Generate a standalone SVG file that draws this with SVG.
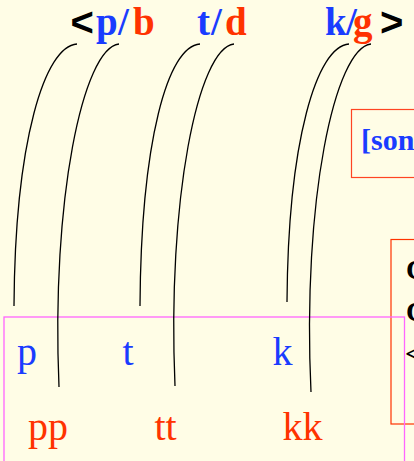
<svg xmlns="http://www.w3.org/2000/svg" width="414" height="461" viewBox="0 0 414 461">
<style>
.bg{fill:#FFFDE6}
.blue{fill:#1A3CFF}
.red{fill:#FF3300}
.blk{fill:#000000}
.title{font-family:"Liberation Serif","Times New Roman",serif;font-weight:bold;font-size:39px}
.ang{font-family:"Liberation Sans",Arial,sans-serif;font-weight:bold;font-size:40px}
.seg{font-family:"Liberation Serif","Times New Roman",serif;font-size:40px}
.side{font-family:"Liberation Serif","Times New Roman",serif;font-weight:bold;font-size:28px}
.feat{font-family:"Liberation Serif","Times New Roman",serif;font-weight:bold;font-size:30px}
.link{fill:none;stroke:#000;stroke-width:1.3}
</style>
<rect class="bg" x="0" y="0" width="414" height="461"/>
<g id="title">
<text class="ang blk" x="70.5" y="36">&lt;</text>
<text class="title" y="35"><tspan class="blue" x="96">p</tspan><tspan class="blue" x="118">/</tspan><tspan class="red" x="133">b</tspan><tspan class="blue" x="197">t</tspan><tspan class="blue" x="211">/</tspan><tspan class="red" x="225">d</tspan><tspan class="blue" x="325">k</tspan><tspan class="blue" x="346">/</tspan><tspan class="red" x="353">g</tspan></text>
<text class="ang blk" x="380" y="36">&gt;</text>
</g>
<g id="feature-box">
<rect x="351.5" y="109.5" width="80" height="68" fill="none" stroke="#FF4422" stroke-width="1.2"/>
<text class="feat blue" x="361" y="150">[son</text>
</g>
<g id="side-box">
<rect x="391" y="239.5" width="40" height="184.5" fill="none" stroke="#FF3300" stroke-width="1.2"/>
<text class="side blk" x="406" y="279">C</text>
<text class="side blk" x="406" y="321">C</text>
<text class="side blk" x="405" y="363">&lt;</text>
</g>
<g id="segment-box">
<rect x="4" y="317" width="400.5" height="160" fill="none" stroke="#FF66FF" stroke-width="1.3"/>
</g>
<g id="short">
<text class="seg blue" x="17" y="365">p</text>
<text class="seg blue" x="122.5" y="365">t</text>
<text class="seg blue" x="272.5" y="365">k</text>
</g>
<g id="long">
<text class="seg red" x="28" y="440">pp</text>
<text class="seg red" x="154.5" y="440">tt</text>
<text class="seg red" x="282.5" y="440">kk</text>
</g>
<g id="connectors">
<path class="link" d="M77,44 C45,46 15,140 14,306"/>
<path class="link" d="M119,44 C83,48 51,200 59,387"/>
<path class="link" d="M200,44 C168,46 141,140 140,306"/>
<path class="link" d="M234,44 C198,48 167,200 175,386"/>
<path class="link" d="M349,44 C317,46 288,140 287,302"/>
<path class="link" d="M371,44 C335,48 302,200 311,392"/>
</g>
</svg>
